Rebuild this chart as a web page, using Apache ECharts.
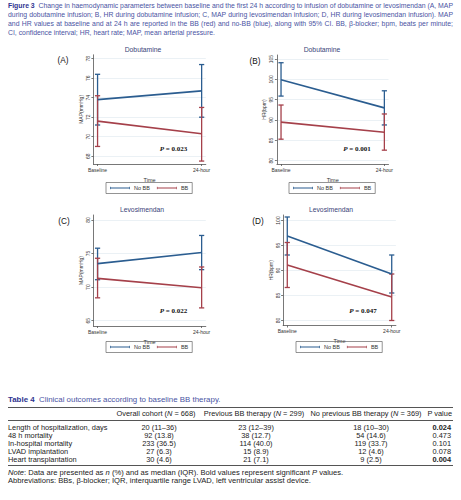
<!DOCTYPE html>
<html>
<head>
<meta charset="utf-8">
<script src="https://cdn.jsdelivr.net/npm/echarts@6/dist/echarts.min.js"></script>
<style>
html, body { margin: 0; padding: 0; background: #fff; }
#page { position: relative; width: 461px; height: 500px; overflow: hidden; }
#chart { position: absolute; left: 0; top: 0; width: 461px; height: 500px; }
.cap { position: absolute; left: 8px; width: 445px; font-family: 'Liberation Sans', Arial, sans-serif;
  font-size: 6.5px; line-height: 9px; color: #4a54a3; white-space: nowrap; text-align: justify; text-align-last: justify; }
.cap.last { text-align-last: left; }
.cap b, .ttl b { color: #2f3490; }
.ttl { position: absolute; left: 8px; top: 394.5px; font-family: 'Liberation Sans', Arial, sans-serif;
  font-size: 7.9px; line-height: 9px; color: #4a54a3; white-space: nowrap; }
.cell { position: absolute; font-family: 'Liberation Sans', Arial, sans-serif; font-size: 7.4px;
  color: #222; white-space: nowrap; line-height: 8px; }
.rule { position: absolute; left: 8px; width: 445px; background: #555; }
</style>
</head>
<body>
<div id="page">
  <div id="chart"></div>
  <div class="cap" style="top:0.5px"><b>Figure 3</b>&nbsp; Change in haemodynamic parameters between baseline and the first 24 h according to infusion of dobutamine or levosimendan (A, MAP</div>
  <div class="cap" style="top:9.5px">during dobutamine infusion; B, HR during dobutamine infusion; C, MAP during levosimendan infusion; D, HR during levosimendan infusion). MAP</div>
  <div class="cap" style="top:18.8px">and HR values at baseline and at 24 h are reported in the BB (red) and no-BB (blue), along with 95% CI. BB, β-blocker; bpm, beats per minute;</div>
  <div class="cap last" style="top:27.8px">CI, confidence interval; HR, heart rate; MAP, mean arterial pressure.</div>
  <div id="table"></div>
</div>
<script>
// x positions of the two time points and their labels
const timePos = [0, 1];
const timeLabels = ['Baseline', '24-hour'];

// (A) MAP during dobutamine
const mapDobNoBBMean = [73.8, 74.7];
const mapDobNoBBLow = [71.2, 72.0];
const mapDobNoBBHigh = [76.4, 77.4];
const mapDobBBMean = [71.6, 70.3];
const mapDobBBLow = [69.0, 67.5];
const mapDobBBHigh = [74.2, 73.0];

// (B) HR during dobutamine
const hrDobNoBBMean = [99.9, 93.0];
const hrDobNoBBLow = [95.9, 88.8];
const hrDobNoBBHigh = [104.1, 97.2];
const hrDobBBMean = [89.5, 87.0];
const hrDobBBLow = [85.3, 82.6];
const hrDobBBHigh = [93.7, 91.5];

// (C) MAP during levosimendan
const mapLevoNoBBMean = [73.5, 75.15];
const mapLevoNoBBLow = [71.1, 72.6];
const mapLevoNoBBHigh = [75.8, 77.7];
const mapLevoBBMean = [71.3, 69.9];
const mapLevoBBLow = [68.4, 66.9];
const mapLevoBBHigh = [74.3, 73.0];

// (D) HR during levosimendan
const hrLevoNoBBMean = [96.9, 89.3];
const hrLevoNoBBLow = [93.1, 85.5];
const hrLevoNoBBHigh = [100.7, 93.1];
const hrLevoBBMean = [91.1, 84.7];
const hrLevoBBLow = [86.6, 80.0];
const hrLevoBBHigh = [95.6, 89.3];

// y tick labels
const mapDobTicks = [68, 70, 72, 74, 76, 78];
const hrDobTicks = [80, 85, 90, 95, 100, 105];
const mapLevoTicks = [65, 70, 75, 80];
const hrLevoTicks = [80, 85, 90, 95, 100];

const pValues = ['0.023', '0.001', '0.022', '0.047'];

// Table 4
const colHeaders = ['Overall cohort', 'Previous BB therapy', 'No previous BB therapy'];
const colN = [668, 299, 369];
const outcomeNames = ['Length of hospitalization, days', '48 h mortality', 'In-hospital mortality', 'LVAD implantation', 'Heart transplantation'];
const overallCohort = ['20 (11–36)', '92 (13.8)', '233 (36.5)', '27 (6.3)', '30 (4.6)'];
const previousBB = ['23 (12–39)', '38 (12.7)', '114 (40.0)', '15 (8.9)', '21 (7.1)'];
const noPreviousBB = ['18 (10–30)', '54 (14.6)', '119 (33.7)', '12 (4.6)', '9 (2.5)'];
const outcomeP = [0.024, 0.473, 0.101, 0.078, 0.004];

const blue = '#2b5d90';
const red = '#a5404a';
const font = 'Liberation Sans';

// ---------- caption: fit the widest line to the column ----------
function fitCaption () {
  const lines = Array.from(document.querySelectorAll('.cap'))
  let widest = 0
  lines.forEach(el => {
    el.style.width = 'auto'
    widest = Math.max(widest, el.getBoundingClientRect().width)
  })
  const size = 6.5 * 445 / widest
  lines.forEach(el => {
    el.style.width = '445px'
    el.style.fontSize = size.toFixed(2) + 'px'
  })
}
fitCaption()

// ---------- table (html) ----------
function buildTable () {
  const t = document.getElementById('table')
  let html = '<div class="ttl"><b>Table 4</b>&nbsp; Clinical outcomes according to baseline BB therapy.</div>'
  html += '<div class="rule" style="top:407px;height:1.4px"></div>'
  html += '<div class="rule" style="top:419.6px;height:0.8px"></div>'
  html += '<div class="rule" style="top:465px;height:1.4px"></div>'
  const centers = [156, 254, 366]
  const headY = 410.3
  colHeaders.forEach((h, i) => {
    html += '<div class="cell" style="left:' + centers[i] + 'px;top:' + headY + 'px;transform:translateX(-50%)">' +
      h + ' (<i>N</i> = ' + colN[i] + ')</div>'
  })
  html += '<div class="cell" style="right:9px;top:' + headY + 'px">P value</div>'
  const cols = [overallCohort, previousBB, noPreviousBB]
  const valCenters = [159, 256, 371]
  outcomeNames.forEach((name, r) => {
    const y = 424.3 + r * 7.9
    html += '<div class="cell" style="left:8px;top:' + y + 'px">' + name + '</div>'
    cols.forEach((col, i) => {
      html += '<div class="cell" style="left:' + valCenters[i] + 'px;top:' + y + 'px;transform:translateX(-50%)">' + col[r] + '</div>'
    })
    const p = outcomeP[r].toFixed(3)
    html += '<div class="cell" style="right:10px;top:' + y + 'px">' + (outcomeP[r] < 0.05 ? '<b>' + p + '</b>' : p) + '</div>'
  })
  html += '<div class="cell" style="left:8px;top:469px;font-size:7.6px"><i>Note</i>: Data are presented as <i>n</i> (%) and as median (IQR). Bold values represent significant <i>P</i> values.</div>'
  html += '<div class="cell" style="left:8px;top:477px;font-size:7.6px">Abbreviations: BBs, β-blocker; IQR, interquartile range LVAD, left ventricular assist device.</div>'
  t.innerHTML = html
}
buildTable()

// ---------- chart ----------
const panels = [
  { grid: { left: 93.4, top: 54.8, width: 112.4, height: 109.2 }, yMin: 67.2, yMax: 78.4, ticks: mapDobTicks, yName: 'MAP(mmHg)',
    noBB: [mapDobNoBBMean, mapDobNoBBLow, mapDobNoBBHigh], bb: [mapDobBBMean, mapDobBBLow, mapDobBBHigh],
    title: 'Dobutamine', titleX: 143, letter: '(A)', letterX: 63, legendLeft: 106, legendTop: 182.5 },
  { grid: { left: 276.9, top: 55, width: 111.6, height: 109 }, yMin: 79.2, yMax: 106, ticks: hrDobTicks, yName: 'HR(bpm)',
    noBB: [hrDobNoBBMean, hrDobNoBBLow, hrDobNoBBHigh], bb: [hrDobBBMean, hrDobBBLow, hrDobBBHigh],
    title: 'Dobutamine', titleX: 322, letter: '(B)', letterX: 255, legendLeft: 289, legendTop: 182.5 },
  { grid: { left: 93.4, top: 215, width: 112.4, height: 111 }, yMin: 64.2, yMax: 80.75, ticks: mapLevoTicks, yName: 'MAP(mmHg)',
    noBB: [mapLevoNoBBMean, mapLevoNoBBLow, mapLevoNoBBHigh], bb: [mapLevoBBMean, mapLevoBBLow, mapLevoBBHigh],
    title: 'Levosimendan', titleX: 142, letter: '(C)', letterX: 64, legendLeft: 106, legendTop: 341.5 },
  { grid: { left: 283.1, top: 215, width: 112.8, height: 110.5 }, yMin: 79.0, yMax: 101.1, ticks: hrLevoTicks, yName: 'HR(bpm)',
    noBB: [hrLevoNoBBMean, hrLevoNoBBLow, hrLevoNoBBHigh], bb: [hrLevoBBMean, hrLevoBBLow, hrLevoBBHigh],
    title: 'Levosimendan', titleX: 331, letter: '(D)', letterX: 258, legendLeft: 296, legendTop: 341.5 }
]

// rcap style error bar drawn through the axes
function errorBar (color) {
  return function (params, api) {
    const lo = api.coord([api.value(0), api.value(1)])
    const hi = api.coord([api.value(0), api.value(2)])
    const w = 2.6
    const style = { stroke: color, lineWidth: 1.3 }
    return {
      type: 'group',
      children: [
        { type: 'line', shape: { x1: lo[0], y1: lo[1], x2: hi[0], y2: hi[1] }, style },
        { type: 'line', shape: { x1: lo[0] - w, y1: lo[1], x2: lo[0] + w, y2: lo[1] }, style },
        { type: 'line', shape: { x1: hi[0] - w, y1: hi[1], x2: hi[0] + w, y2: hi[1] }, style }
      ]
    }
  }
}

// legend key: thick line with small end caps
const legendIcon = 'path://M0,0H0.9V1.2H29.1V0H30V4H29.1V2.8H0.9V4H0Z'

const option = { animation: false, grid: [], xAxis: [], yAxis: [], series: [], legend: [], graphic: [] }

panels.forEach((p, i) => {
  option.grid.push(p.grid)
  option.xAxis.push({
    type: 'value', gridIndex: i, min: -0.04, max: 1.04,
    name: 'Time', nameLocation: 'middle', nameGap: 12.5,
    nameTextStyle: { fontFamily: font, fontSize: 5.5, color: '#333' },
    axisLine: { onZero: false, lineStyle: { color: '#555', width: 0.8 } },
    axisTick: { customValues: timePos, length: 2, lineStyle: { color: '#555', width: 0.8 } },
    axisLabel: { customValues: timePos, margin: 3, fontFamily: font, fontSize: 5, color: '#333',
      formatter: v => timeLabels[timePos.indexOf(v)] },
    splitLine: { show: false }
  })
  option.yAxis.push({
    type: 'value', gridIndex: i, min: p.yMin, max: p.yMax,
    name: p.yName, nameLocation: 'middle', nameGap: 10,
    nameTextStyle: { fontFamily: font, fontSize: 5, color: '#333' },
    axisLine: { show: true, onZero: false, lineStyle: { color: '#555', width: 0.8 } },
    axisTick: { show: true, customValues: p.ticks, length: 2, lineStyle: { color: '#555', width: 0.8 } },
    axisLabel: { customValues: p.ticks, rotate: 90, margin: 3, fontFamily: font, fontSize: 5, color: '#333' },
    splitLine: { show: false }
  })
  const groups = [['No BB', blue, p.noBB], ['BB', red, p.bb]]
  groups.forEach(([name, color, d], k) => {
    const s = {
      type: 'line', name, xAxisIndex: i, yAxisIndex: i, symbol: 'none', z: 4,
      data: timePos.map((x, j) => [x, d[0][j]]),
      lineStyle: { color, width: 1.6 }, itemStyle: { color }
    }
    if (k === 0) {
      // faint horizontal grid lines at the y ticks
      s.markLine = {
        silent: true, symbol: 'none', label: { show: false }, z: 0,
        lineStyle: { color: '#e6edf3', width: 0.8, type: 'solid' },
        emphasis: { disabled: true },
        data: p.ticks.map(v => ({ yAxis: v }))
      }
    }
    option.series.push(s)
  })
  groups.forEach(([name, color, d]) => {
    option.series.push({
      type: 'custom', name, xAxisIndex: i, yAxisIndex: i, z: 3,
      renderItem: errorBar(color),
      encode: { x: 0, y: [1, 2] },
      itemStyle: { color },
      data: timePos.map((x, j) => [x, d[1][j], d[2][j]])
    })
  })
  option.legend.push({
    left: p.legendLeft, top: p.legendTop, selectedMode: false,
    data: [{ name: 'No BB', icon: legendIcon }, { name: 'BB', icon: legendIcon }],
    itemWidth: 20, itemHeight: 4, itemGap: 7,
    borderColor: '#666', borderWidth: 0.7, padding: [2.5, 4],
    textStyle: { fontFamily: font, fontSize: 5.5, color: '#333', padding: [0, 0, 0, -1] }
  })
  option.graphic.push({
    type: 'text', x: p.titleX, y: p.grid.top - 5.5,
    style: { text: p.title, fontFamily: font, fontSize: 6.8, fill: '#3b4479', textAlign: 'center', textVerticalAlign: 'middle' }
  })
  option.graphic.push({
    type: 'text', x: p.letterX, y: p.grid.top + 6,
    style: { text: p.letter, fontFamily: font, fontSize: 8.2, fill: '#111', textAlign: 'center', textVerticalAlign: 'middle' }
  })
  option.graphic.push({
    type: 'text', x: p.grid.left + 80, y: p.grid.top + p.grid.height - 15,
    style: {
      text: '{i|P}{b| = ' + pValues[i] + '}', textAlign: 'center', textVerticalAlign: 'middle',
      rich: {
        i: { fontFamily: 'Liberation Serif', fontSize: 7, fontWeight: 'bold', fontStyle: 'italic', fill: '#111' },
        b: { fontFamily: 'Liberation Serif', fontSize: 7, fontWeight: 'bold', fill: '#111' }
      }
    }
  })
})

const chart = echarts.init(document.getElementById('chart'), null, { renderer: 'svg' })
chart.setOption(option)
</script>
</body>
</html>
